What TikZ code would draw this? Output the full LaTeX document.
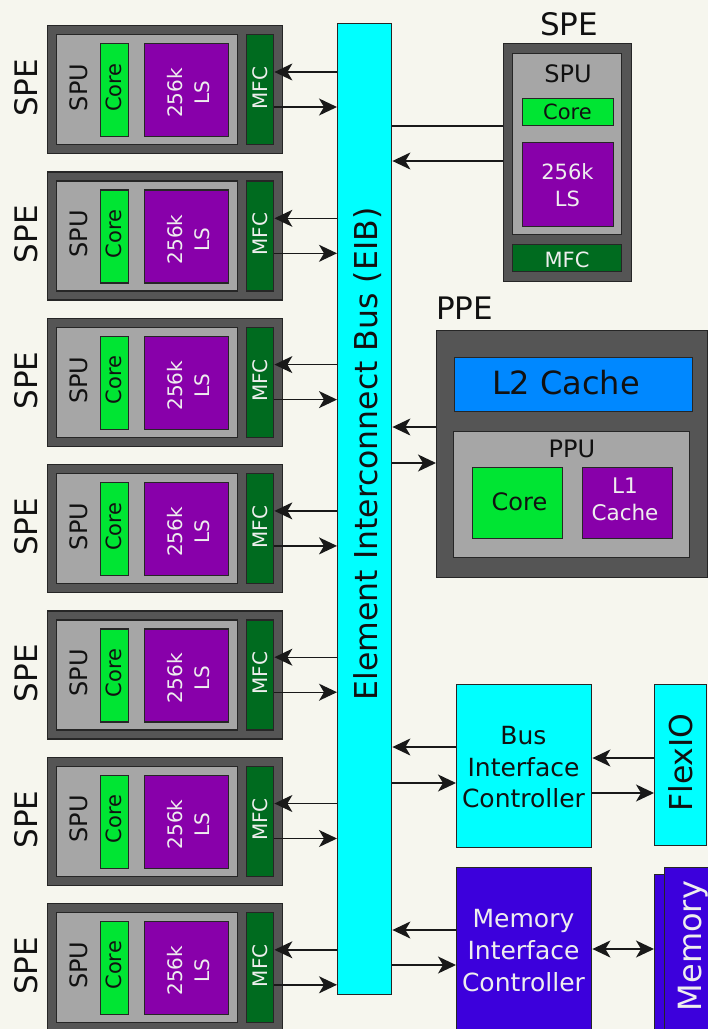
\documentclass[tikz,border=0pt]{standalone}
\usepackage{fontspec}
\setmainfont{DejaVu Sans}
\usetikzlibrary{arrows.meta}
\definecolor{bg}{HTML}{F6F6EE}
\definecolor{dgray}{HTML}{555555}
\definecolor{lgray}{HTML}{A6A6A6}
\definecolor{coreg}{HTML}{00E533}
\definecolor{lspurp}{HTML}{8800AA}
\definecolor{mfcg}{HTML}{006B1F}
\definecolor{eib}{HTML}{00FFFF}
\definecolor{ltwo}{HTML}{0088FF}
\definecolor{memc}{HTML}{3C00DC}
\definecolor{txtw}{HTML}{EEEEEE}
\definecolor{txtk}{HTML}{111111}
\newcommand\fsz[2]{\fontsize{#1}{#2}\selectfont}
\tikzset{
  box/.style={draw=black!85, line width=1.4pt, inner sep=0pt, anchor=north west},
  lbl/.style={inner sep=0pt, text=txtk},
  wlbl/.style={inner sep=0pt, text=txtw},
  rot/.style={rotate=90},
  conn/.style={line width=1.4pt, draw=black!90},
  tipk/.tip={Stealth[length=18pt,width=17pt,inset=5pt]},
  arr/.style={conn, -tipk},
  arrboth/.style={conn, tipk-tipk}
}
\begin{document}
\begin{tikzpicture}[x=1pt,y=-1pt]
\useasboundingbox (0,0) rectangle (708,1029);
\clip (0,0) rectangle (708,1029);
\fill[bg] (0,0) rectangle (708,1029);

% Bus
\node[box, fill=eib, minimum width=54pt, minimum height=971pt] (bus) at (337,23) {};
\node[lbl, rot, anchor=base, font=\fsz{31.5}{38}] (bustxt) at (377,454) {Element Interconnect Bus (EIB)};

% Left SPEs
\foreach \i in {0,...,6}{
  \pgfmathsetmacro\t{25+146.3*\i}
  \node[box, fill=dgray, minimum width=235pt, minimum height=128pt] (spe\i) at (47,\t) {};
  \node[box, fill=lgray, minimum width=181pt, minimum height=110pt] (spu\i) at (56,\t+9) {};
  \node[box, fill=coreg, minimum width=28pt, minimum height=93pt] (core\i) at (100,\t+18) {};
  \node[box, fill=lspurp, minimum width=84pt, minimum height=93pt] (ls\i) at (144,\t+18) {};
  \node[box, fill=mfcg, minimum width=27pt, minimum height=110pt] (mfc\i) at (246,\t+9) {};
  \node[lbl, rot, anchor=base, font=\fsz{31}{37}] (spet\i) at (37,\t+63) {SPE};
  \node[lbl, rot, anchor=base, font=\fsz{24}{29}] (sput\i) at (87,\t+62.5) {SPU};
  \node[lbl, rot, anchor=base, font=\fsz{21}{26}] (coret\i) at (121,\t+62.5) {Core};
  \node[wlbl, rot, align=center, font=\fsz{20}{27}] (lst\i) at (189,\t+68) {256k\\LS};
  \node[wlbl, rot, anchor=base, font=\fsz{20}{25}] (mfct\i) at (267,\t+63) {MFC};
  \coordinate (in\i) at ([yshift=-38pt]mfc\i.north east);
  \coordinate (out\i) at ([yshift=-73pt]mfc\i.north east);
  \draw[arr] (bus.west |- in\i) -- (in\i);
  \draw[arr] (out\i) -- (bus.west |- out\i);
}

% Right SPE
\node[box, fill=dgray, minimum width=128pt, minimum height=238pt] (rspe) at (503,43) {};
\node[box, fill=lgray, minimum width=109pt, minimum height=181pt] (rspu) at (512,53) {};
\node[box, fill=coreg, minimum width=91pt, minimum height=27pt] (rcore) at (522,98) {};
\node[box, fill=lspurp, minimum width=91pt, minimum height=84pt] (rls) at (522,142) {};
\node[box, fill=mfcg, minimum width=109pt, minimum height=27pt] (rmfc) at (512,244) {};
\node[lbl, anchor=base, font=\fsz{31}{37}] (rspet) at (569,35) {SPE};
\node[lbl, anchor=base, font=\fsz{24}{29}] (rsput) at (568,82) {SPU};
\node[lbl, font=\fsz{21}{26}] (rcoret) at (567.5,111.5) {Core};
\node[wlbl, align=center, font=\fsz{21}{27}] (rlst) at (567.5,185.5) {256k\\LS};
\node[wlbl, anchor=base, font=\fsz{21}{26}] (rmfct) at (567,267) {MFC};
\coordinate (r1) at ([yshift=-83pt]rspe.north west);
\coordinate (r2) at ([yshift=-118pt]rspe.north west);
\draw[conn] (bus.east |- r1) -- (r1);
\draw[arr] (r2) -- (bus.east |- r2);

% PPE
\node[box, fill=dgray, minimum width=271pt, minimum height=247pt] (ppe) at (436,330) {};
\node[box, fill=ltwo, minimum width=238pt, minimum height=54pt] (l2) at (454,357) {};
\node[box, fill=lgray, minimum width=236pt, minimum height=126pt] (ppu) at (453,431) {};
\node[box, fill=coreg, minimum width=90pt, minimum height=71pt] (pcore) at (472,467) {};
\node[box, fill=lspurp, minimum width=90pt, minimum height=71pt] (pl1) at (582,467) {};
\node[lbl, anchor=base west, font=\fsz{31}{37}] (ppet) at (436,319) {PPE};
\node[lbl, anchor=base, font=\fsz{32}{38}] (l2t) at (566,394) {L2 Cache};
\node[lbl, anchor=base, font=\fsz{24}{29}] (pput) at (572,457) {PPU};
\node[lbl, anchor=base, font=\fsz{24}{29}] (pcoret) at (519.5,510) {Core};
\node[wlbl, align=center, font=\fsz{21.5}{27}] (pl1t) at (625,499) {L1\\Cache};
\coordinate (p1) at ([yshift=-97pt]ppe.north west);
\coordinate (p2) at ([yshift=-133pt]ppe.north west);
\draw[arr] (p1) -- (bus.east |- p1);
\draw[arr] (bus.east |- p2) -- (p2);

% Bus Interface Controller and FlexIO
\node[box, fill=eib, minimum width=135pt, minimum height=163pt] (bic) at (456,684) {};
\node[lbl, align=center, font=\fsz{25}{31.5}] (bict) at (523.5,767.5) {Bus\\Interface\\Controller};
\node[box, fill=eib, minimum width=52pt, minimum height=161pt] (flex) at (654,684) {};
\node[lbl, rot, anchor=base, font=\fsz{31.5}{38}] (flext) at (692,762.5) {FlexIO};
\coordinate (b1) at ([yshift=-63pt]bic.north west);
\coordinate (b2) at ([yshift=-99pt]bic.north west);
\draw[arr] (b1) -- (bus.east |- b1);
\draw[arr] (bus.east |- b2) -- (b2);
\coordinate (f1) at ([yshift=-74pt]flex.north west);
\coordinate (f2) at ([yshift=-109pt]flex.north west);
\draw[arr] (f1) -- (bic.east |- f1);
\draw[arr] (bic.east |- f2) -- (f2);

% Memory Interface Controller and Memory
\node[box, fill=memc, minimum width=135pt, minimum height=175pt] (mic) at (456,867) {};
\node[wlbl, align=center, font=\fsz{25}{32}] (mict) at (523.5,951) {Memory\\Interface\\Controller};
\node[box, fill=memc, minimum width=60pt, minimum height=175pt] (memb) at (654,874) {};
\node[box, fill=memc, minimum width=60pt, minimum height=175pt] (memf) at (664,867) {};
\node[wlbl, rot, anchor=base, font=\fsz{32}{38}] (memt) at (701,946) {Memory};
\coordinate (m1) at ([yshift=-63pt]mic.north west);
\coordinate (m2) at ([yshift=-98pt]mic.north west);
\draw[arr] (m1) -- (bus.east |- m1);
\draw[arr] (bus.east |- m2) -- (m2);
\coordinate (mm) at ([yshift=-75pt]memb.north west);
\draw[arrboth] (mic.east |- mm) -- (mm);
\end{tikzpicture}
\end{document}
